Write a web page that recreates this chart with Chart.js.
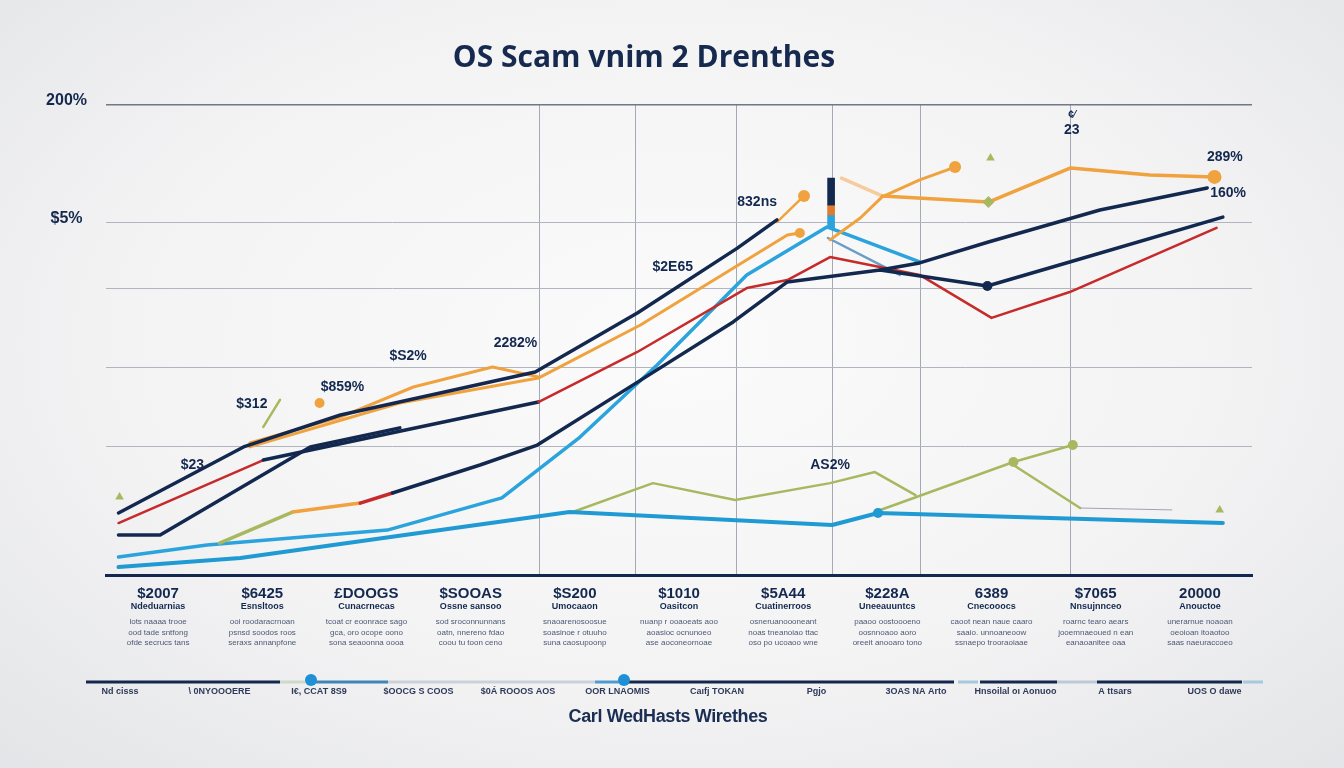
<!DOCTYPE html>
<html><head><meta charset="utf-8">
<script src="https://cdn.jsdelivr.net/npm/chart.js@4.4.1/dist/chart.umd.min.js"></script>
<style>
html,body{margin:0;padding:0;width:1344px;height:768px;overflow:hidden;
background: radial-gradient(ellipse 75% 80% at 50% 45%, #fbfbfb 0%, #f3f3f4 55%, #e2e3e6 100%);}
#wrap{position:absolute;left:0;top:0;width:1344px;height:768px;}
</style></head><body>
<div id="wrap"><canvas id="c" width="1344" height="768"></canvas></div>
<script>
// ---------- DATA ----------
const titleText = "OS Scam vnim 2 Drenthes";
const subtitleText = "Carl WedHasts Wirethes";
const categories = ["$2007","$6425","£DOOGS","$SOOAS","$S200","$1010","$5A44","$228A","6389","$7065","20000"];
const categorySub = ["Ndeduarnias","Esnsltoos","Cunacrnecas","Ossne sansoo","Umocaaon","Oasitcon","Cuatinerroos","Uneeauuntcs","Cnecooocs","Nnsujnnceo","Anouctoe"];
const categoryNotes = [
  ["lots naaaa trooe","ood tade sntfong","ofde secrucs tans"],
  ["ooi roodaracrnoan","psnsd soodos roos","seraxs annanpfone"],
  ["tcoat cr eoonrace sago","gca, oro ocope oono","sona seaoonna oooa"],
  ["sod sroconnunnans","oatn, nnereno fdao","coou tu toon ceno"],
  ["snaoarenosoosue","soasinoe r otuuho","suna caosupoonp"],
  ["nuanp r ooaoeats aoo","aoasioc ocnunoeo","ase aoconeornoae"],
  ["osneruanoooneant","noas tneanoiao ttac","oso po ucoaoo wne"],
  ["paaoo oostoooeno","oosnnoaoo aoro","oreeit anooaro tono"],
  ["caoot nean naue caaro","saaio. unnoaneoow","ssnaepo trooraoiaae"],
  ["roarnc tearo aears","jooemnaeoued n ean","eanaoanitee oaa"],
  ["unerarnue noaoan","oeoioan itoaotoo","saas naeuraccoeo"]
];
const yTickValues = [0, 54.5, 88.5, 122, 150, 200];
const yTickLabels = ["", "", "", "", "$5%", "200%"];
const vGridValues = [4.16, 5.08, 6.05, 6.97, 7.82, 9.26];
const timelineLabels = ["Nd cisss","\\ 0NYOOOERE","I€, CCAT 8S9","$OOCG S COOS","$0Á ROOOS AOS","OOR LNAOMIS","Caıfj TOKAN","Pgjo","3OAS NA Arto","Hnsoilal oı Aonuoo","A ttsars","UOS O dawe"];

// series values: [x (period), y (%)]
const navyTop = [[0.12,26.4],[1.32,54.5],[2.25,68.1],[4.12,86.4],[5.10,111.5],[6.06,139.1],[6.44,151.1]];
const orangeUpper = [[1.38,56.2],[2.25,67.2],[2.95,80.0],[3.71,88.5],[4.15,84.3]];
const orangeMid = [[1.38,54.5],[2.82,73.2],[4.15,83.8],[5.13,106.4],[6.54,144.7],[6.66,145.5]];
const orangeStub = [[6.44,150.2],[6.70,161.3]];
const orangeTick = [[1.51,63.0],[1.67,74.5]];
const redLine = [[0.12,22.1],[1.51,48.9],[4.15,73.6],[5.10,94.9],[6.15,122.1],[6.54,125.5],[6.95,135.3],[7.81,127.7],[8.50,109.4],[9.25,120.4],[10.66,147.7]];
const navySteep = [[0.12,17.0],[0.52,17.0],[1.96,54.5],[2.82,62.6]];
const navyLower = [[1.09,13.6],[1.79,26.8],[2.44,30.6],[2.75,34.9],[3.59,46.8],[4.14,55.3],[5.06,80.9],[6.02,107.7],[6.54,124.7],[7.43,129.8],[8.46,123.0],[9.25,133.2],[10.72,152.3]];
const navyUpperRight = [[7.43,129.8],[7.81,132.8],[8.47,141.7],[9.54,155.3],[10.57,164.7]];
const lightBlue = [[0.12,7.7],[0.97,12.8],[2.70,19.1],[3.80,32.8],[4.55,58.7],[5.29,89.4],[6.15,127.7],[6.92,148.1],[7.81,133.2]];
const steelBranch = [[6.93,143.4],[7.62,127.7]];
const blueBottom = [[0.12,3.4],[1.29,7.2],[2.73,16.2],[4.45,26.8],[6.97,21.3],[7.41,26.4],[10.72,22.1]];
const olive1 = [[4.48,26.8],[5.25,39.1],[6.04,31.9],[6.95,39.1],[7.38,43.8],[7.77,34.0]];
const olive2 = [[7.38,26.8],[8.71,48.1],[9.28,55.3]];
const olive3 = [[8.71,46.8],[9.35,28.5],[10.23,27.7]];
const orangeRight1 = [[6.95,142.6],[7.24,151.9],[7.45,160.9],[7.81,168.1],[8.15,173.6]];
const orangeRight2 = [[7.06,168.9],[7.45,161.3],[8.47,158.7],[9.26,173.2],[10.02,170.2],[10.64,169.4]];
const markerPoints = [[0.13,33.2],[8.49,177.4],[10.69,27.7]];
const orangeDrop = [[2.05,73.2]];
// small stacked marker column: [x, yLow, yHigh]
const markerColumn = [[6.96,157.4,168.9],[6.96,153.2,157.4],[6.96,147.7,153.2]];

const noteTexts = ["832ns","$2E65","2282%","$S2%","$859%","$312","$23","AS2%","23","289%","160%"];
const noteX = [6.25,5.44,3.93,2.90,2.27,1.40,0.83,6.95,9.27,10.74,10.77];
const noteY = [158.7,131.1,98.7,93.2,80.0,72.8,46.8,46.8,189.4,177.9,162.6];

// ---------- STYLE ----------
const NAVY='#13284f', ORANGE='#f0a23e', LORANGE='#f6cc9e', RED='#c62a2a', LBLUE='#2ba3dc',
      BLUE='#1f9ad3', OLIVE='#a8b860', STEEL='#6a9cc4';
const series = [
  {d: navyTop, c: NAVY, w: 3.5},
  {d: navyUpperRight, c: NAVY, w: 3.5},
  {d: navyLower, c: NAVY, w: 3.5, seg: {0: OLIVE, 1: ORANGE, 2: RED}, dots: {10: 5}},
  {d: navySteep, c: NAVY, w: 3.5},
  {d: orangeUpper, c: ORANGE, w: 3},
  {d: orangeMid, c: ORANGE, w: 3, dots: {5: 5}},
  {d: orangeStub, c: ORANGE, w: 2.5, dots: {1: 6}},
  {d: orangeTick, c: ORANGE, w: 2.5, seg: {0: OLIVE}},
  {d: orangeRight1, c: ORANGE, w: 3, dots: {4: 6}},
  {d: orangeRight2, c: ORANGE, w: 3.5, seg: {0: LORANGE}, dots: {2: 6, 5: 7}, dotColor: {2: OLIVE}},
  {d: redLine, c: RED, w: 2.5, seg: {1: NAVY}, segW: {1: 3.5}},
  {d: steelBranch, c: STEEL, w: 2.5},
  {d: lightBlue, c: LBLUE, w: 3.5},
  {d: blueBottom, c: BLUE, w: 4, dots: {5: 5}},
  {d: olive1, c: OLIVE, w: 2.5},
  {d: olive2, c: OLIVE, w: 2.5, dots: {1: 5, 2: 5}},
  {d: olive3, c: OLIVE, w: 2.5, seg: {1: '#9ea4ae'}, segW: {1: 1}},
];
const columnColors = [NAVY, '#e07a2e', LBLUE];

const datasets = series.map(s => ({
  data: s.d.map(p => ({x: p[0], y: p[1]})),
  xAxisID: 'x', yAxisID: 'y',
  borderColor: s.c, backgroundColor: s.c, borderWidth: s.w,
  tension: 0, fill: false, borderCapStyle: 'round', borderJoinStyle: 'round',
  pointRadius: ctx => (s.dots && s.dots[ctx.dataIndex]) || 0,
  pointBackgroundColor: ctx => (s.dotColor && s.dotColor[ctx.dataIndex]) || s.c,
  pointBorderWidth: 0,
  pointStyle: ctx => (s.dotColor && s.dotColor[ctx.dataIndex]) ? 'rectRot' : 'circle',
  segment: {
    borderColor: ctx => (s.seg && s.seg[ctx.p0DataIndex]) || s.c,
    borderWidth: ctx => (s.segW && s.segW[ctx.p0DataIndex]) || s.w
  }
}));
datasets.push({
  data: markerPoints.map(p => ({x: p[0], y: p[1]})), xAxisID: 'x', yAxisID: 'y',
  showLine: false, pointStyle: 'triangle', pointRadius: 5, pointBackgroundColor: OLIVE, pointBorderWidth: 0
});
datasets.push({
  data: orangeDrop.map(p => ({x: p[0], y: p[1]})), xAxisID: 'x', yAxisID: 'y',
  showLine: false, pointStyle: 'circle', pointRadius: 5, pointBackgroundColor: ORANGE, pointBorderWidth: 0
});
markerColumn.forEach((m, i) => datasets.push({
  type: 'bar', data: [{x: m[0], y: [m[1], m[2]]}], xAxisID: 'x', yAxisID: 'y',
  backgroundColor: columnColors[i], borderWidth: 0, barThickness: 7, borderSkipped: false, grouped: false
}));

const FONT = '"Liberation Sans", Arial, sans-serif';
Chart.defaults.font.family = FONT;

const deco = {
  id: 'deco',
  afterDatasetsDraw(chart) {
    const c = chart.ctx, sx = chart.scales.x, sy = chart.scales.y;
    c.save();
    c.textAlign = 'center'; c.textBaseline = 'middle';
    c.fillStyle = NAVY; c.font = 'bold 14px ' + FONT;
    noteTexts.forEach((t, i) => c.fillText(t, sx.getPixelForValue(noteX[i]), sy.getPixelForValue(noteY[i])));
    c.font = 'bold 10px ' + FONT;
    c.fillText('¢⁄', sx.getPixelForValue(9.27), sy.getPixelForValue(195.5));
    c.restore();
  },
  afterDraw(chart) {
    const c = chart.ctx, x2 = chart.scales.x2, W = chart.width;
    c.save();
    c.textAlign = 'center'; c.textBaseline = 'middle';
    categories.forEach((_, i) => {
      const px = x2.getPixelForTick(i);
      c.fillStyle = NAVY; c.font = 'bold 9px ' + FONT;
      c.fillText(categorySub[i], px, x2.top + 32);
      c.fillStyle = '#4d5874'; c.font = '8px ' + FONT;
      categoryNotes[i].forEach((t, j) => c.fillText(t, px, x2.top + 47 + j * 10.5));
    });
    // timeline
    const ty = 682;
    const segs = [[86,280,NAVY],[280,307,'#cfd9c8'],[315,388,'#3f86b8'],[388,595,'#cbd1d8'],[595,622,'#4f9bd0'],
      [626,954,NAVY],[958,978,'#a6c9de'],[980,1057,NAVY],[1057,1097,'#bccad8'],[1097,1242,NAVY],[1243,1263,'#a6c9de']];
    c.lineWidth = 3; c.lineCap = 'butt';
    segs.forEach(s => { c.strokeStyle = s[2]; c.beginPath(); c.moveTo(s[0], ty); c.lineTo(s[1], ty); c.stroke(); });
    c.fillStyle = '#1f8fd6';
    [311, 624].forEach(x => { c.beginPath(); c.arc(x, ty - 2, 6, 0, Math.PI * 2); c.fill(); });
    c.fillStyle = '#2f3a58'; c.font = 'bold 9px ' + FONT;
    timelineLabels.forEach((t, i) => c.fillText(t, 120 + i * 99.5, ty + 10));
    c.fillStyle = '#1a2d52'; c.font = 'bold 18px ' + FONT;
    try { c.letterSpacing = '-0.4px'; } catch (e) {}
    c.fillText(subtitleText, W / 2 - 4, 717);
    c.restore();
  }
};

new Chart(document.getElementById('c'), {
  type: 'line',
  data: { datasets },
  options: {
    responsive: false, animation: false, events: [],
    layout: { padding: { left: 36, right: 92, top: 0, bottom: 113 } },
    plugins: {
      legend: { display: false }, tooltip: { enabled: false },
      title: { display: true, text: titleText, color: '#16294f',
        font: { family: '"Open Sans", "Noto Sans", sans-serif', size: 30, weight: 'bold' },
        padding: { top: 40, bottom: 29 } }
    },
    scales: {
      x: { type: 'linear', min: 0, max: 11, position: 'bottom', weight: 0, offset: false,
        afterBuildTicks: s => { s.ticks = vGridValues.map(v => ({ value: v })); },
        ticks: { display: false },
        grid: { color: '#a3a9b5', lineWidth: 1, drawTicks: false, offset: false },
        border: { display: false } },
      x2: { type: 'category', labels: categories, offset: true, position: 'bottom', weight: 1,
        grid: { color: 'rgba(0,0,0,0)', drawTicks: false },
        border: { display: true, color: NAVY, width: 3 },
        ticks: { color: NAVY, font: { size: 15, weight: 'bold' }, padding: 10, maxRotation: 0, autoSkip: false },
        afterFit: s => { s.height = 80; } },
      y: { type: 'linear', min: 0, max: 200, beginAtZero: false,
        afterBuildTicks: s => { s.ticks = yTickValues.map(v => ({ value: v })); },
        ticks: { callback: v => { const i = yTickValues.indexOf(v); return i >= 0 ? yTickLabels[i] : ''; },
          color: NAVY, font: { size: 16, weight: 'bold' }, padding: 19, crossAlign: 'center', labelOffset: -4 },
        grid: { drawTicks: false,
          color: ctx => ctx.tick && ctx.tick.value === 0 ? 'rgba(0,0,0,0)' : (ctx.tick && ctx.tick.value === 200 ? '#6f7789' : '#b0b5bf'),
          lineWidth: ctx => ctx.tick && ctx.tick.value === 200 ? 1.5 : 1 },
        border: { display: false },
        afterFit: s => { s.width = 70; } }
    }
  },
  plugins: [deco]
});
</script>
</body></html>
